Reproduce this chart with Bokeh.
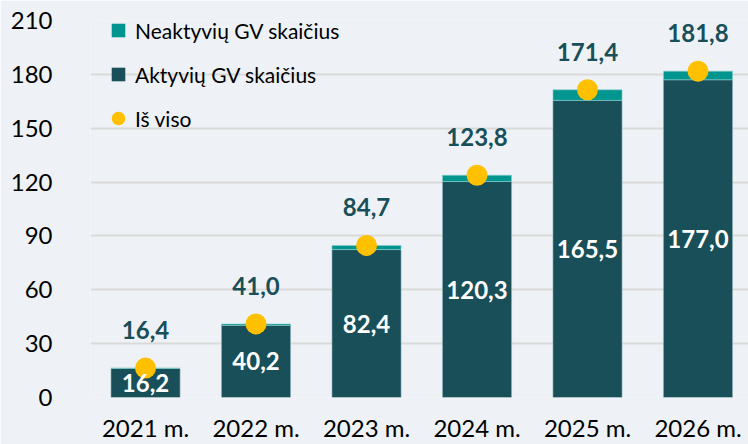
from bokeh.plotting import figure
from bokeh.models import ColumnDataSource, Range1d, FixedTicker, Legend, LegendItem
from bokeh.core.properties import value
from bokeh.embed import file_html
from bokeh.resources import INLINE

categories = ["2021 m.", "2022 m.", "2023 m.", "2024 m.", "2025 m.", "2026 m."]
active = [16.2, 40.2, 82.4, 120.3, 165.5, 177.0]
total = [16.4, 41.0, 84.7, 123.8, 171.4, 181.8]
y_ticks = [0, 30, 60, 90, 120, 150, 180, 210]

inactive = [round(t - a, 1) for t, a in zip(total, active)]
xs = list(range(len(categories)))

def fmt(v):
    return f"{v:.1f}".replace(".", ",")

src = ColumnDataSource(dict(
    x=xs, active=active, inactive=inactive, total=total,
    active_mid=[a / 2 for a in active],
    active_lbl=[fmt(v) for v in active],
    total_lbl=[fmt(v) for v in total],
))

BG = "#eef2f6"
DARK = "#184f59"
TEAL = "#00968f"
YELLOW = "#ffc000"
FONT = "Lato"

p = figure(width=748, height=444, output_backend="svg", toolbar_location=None,
           x_range=Range1d(-0.498, 5.457), y_range=Range1d(0, 210),
           min_border_left=90, min_border_right=0, min_border_top=20, min_border_bottom=46,
           background_fill_color=BG, border_fill_color=BG, outline_line_color=None)

p.vbar(x="x", bottom=0, top="active", width=0.625, source=src,
       fill_color=DARK, line_color="#8fb3b9", line_alpha=0.6, line_width=1)
p.vbar(x="x", bottom="active", top="total", width=0.625, source=src,
       fill_color=TEAL, line_color="#8fd0cc", line_alpha=0.6, line_width=1)
p.scatter(x="x", y="total", size=21, source=src, fill_color=YELLOW, line_color=None)

p.text(x="x", y="total", text="total_lbl", source=src, y_offset=-38,
       text_align="center", text_baseline="middle", text_color=DARK,
       text_font=value(FONT), text_font_style="bold", text_font_size="24px")
p.text(x="x", y="active_mid", text="active_lbl", source=src,
       text_align="center", text_baseline="middle", text_color="white",
       text_font=value(FONT), text_font_style="bold", text_font_size="24px")

# legend markers (sources hold a NaN point so that nothing is drawn on the plot)
nan = float("nan")
leg_src = ColumnDataSource(dict(x=[nan], y=[nan]))
r1 = p.scatter(x="x", y="y", source=leg_src, marker="square", fill_color=TEAL, line_color=None)
r2 = p.scatter(x="x", y="y", source=leg_src, marker="square", fill_color=DARK, line_color=None)
r3 = p.scatter(x="x", y="y", source=leg_src, marker="circle", fill_color=YELLOW, line_color=None)
legend = Legend(items=[
    LegendItem(label="Neaktyvių GV skaičius", renderers=[r1]),
    LegendItem(label="Aktyvių GV skaičius", renderers=[r2]),
    LegendItem(label="Iš viso", renderers=[r3]),
], location=(11, 262), glyph_width=34, glyph_height=34, spacing=10,
    label_standoff=0, padding=0, margin=0,
    label_text_font=FONT, label_text_font_size="21px", label_text_color="#000000",
    background_fill_alpha=0, border_line_color=None)
p.add_layout(legend, "center")

p.grid.grid_line_color = None
p.ygrid.grid_line_color = "#d9d9d9"
p.ygrid.grid_line_width = 2
p.ygrid.ticker = FixedTicker(ticks=y_ticks)

p.yaxis.ticker = FixedTicker(ticks=y_ticks)
p.xaxis.ticker = FixedTicker(ticks=xs)
p.xaxis.major_label_overrides = {i: c for i, c in enumerate(categories)}
for ax in (p.xaxis, p.yaxis):
    ax.axis_line_color = None
    ax.major_tick_line_color = None
    ax.minor_tick_line_color = None
    ax.major_label_text_font = FONT
    ax.major_label_text_font_size = "24px"
    ax.major_label_text_color = "#000000"
p.yaxis.major_label_standoff = 32
p.xaxis.major_label_standoff = 9

open("out.html", "w").write(file_html(p, INLINE))
